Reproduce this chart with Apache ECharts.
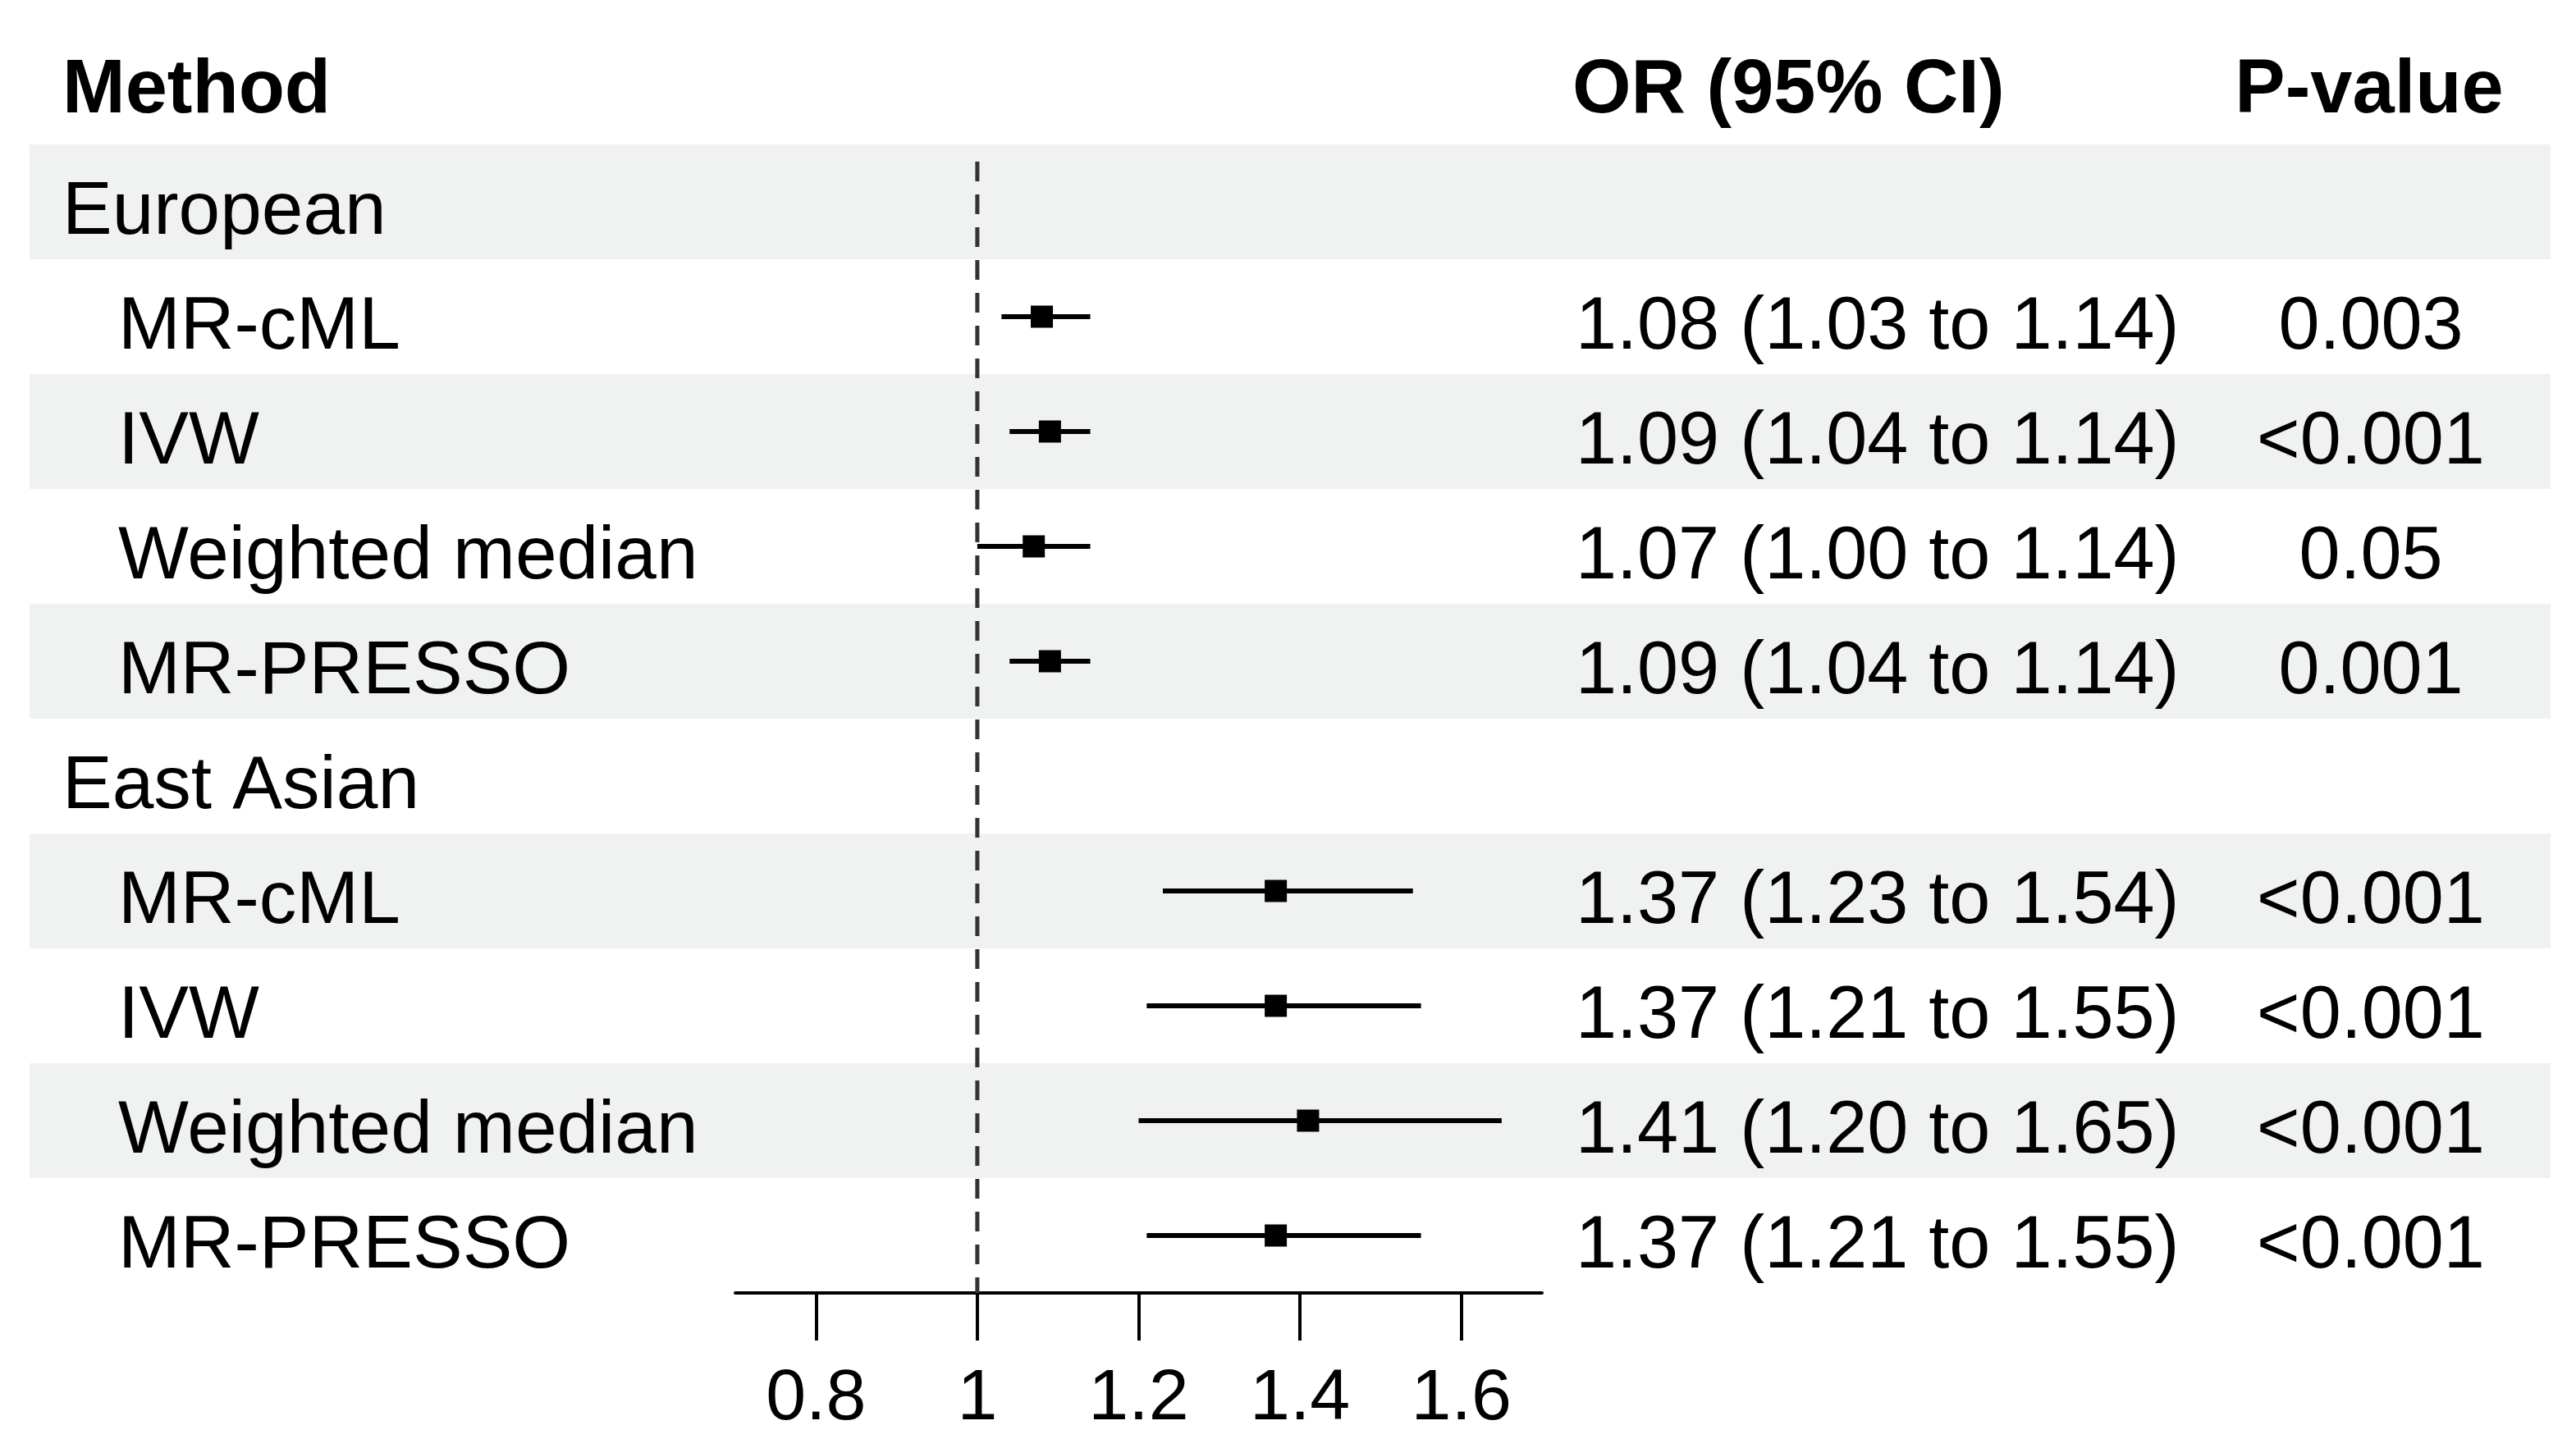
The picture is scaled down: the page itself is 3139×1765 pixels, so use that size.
<!DOCTYPE html>
<html><head><meta charset="utf-8">
<script src="https://cdn.jsdelivr.net/npm/echarts@6/dist/echarts.min.js"></script>
<style>html,body{margin:0;padding:0;background:#fff}#c{width:3139px;height:1765px}</style>
</head><body><div id="c"></div>
<script>
// ---- data ----
const rowLabels = ['European','MR-cML','IVW','Weighted median','MR-PRESSO','East Asian','MR-cML','IVW','Weighted median','MR-PRESSO'];
const rowIsGroup = [true,false,false,false,false,true,false,false,false,false];
const rowShaded = [true,false,true,false,true,false,true,false,true,false];
const orValues = [null,1.08,1.09,1.07,1.09,null,1.37,1.37,1.41,1.37];
const ciLower = [null,1.03,1.04,1.00,1.04,null,1.23,1.21,1.20,1.21];
const ciUpper = [null,1.14,1.14,1.14,1.14,null,1.54,1.55,1.65,1.55];
const pValues = ['','0.003','<0.001','0.05','0.001','','<0.001','<0.001','<0.001','<0.001'];
const tickValues = [0.8,1,1.2,1.4,1.6];
const headers = ['Method','OR (95% CI)','P-value'];
const refValue = 1;

// ---- layout ----
const FONT = '"Liberation Sans", Arial, sans-serif';
const FS_LABEL = 91, FS_OR = 90, FS_HEAD = 92;
const BAND_L = 36, BAND_R = 3108;
const X_GROUP = 76, X_METHOD = 144, X_OR = 1920, X_P = 2889;
const TEXT_DY = 14, HEAD_DY = 6;

const chart = echarts.init(document.getElementById('c'), null, {renderer:'canvas'});
const rows = rowLabels.map((_, i) => i);

function fmt(v){ return v.toFixed(2); }

chart.setOption({
  animation: false,
  backgroundColor: '#fff',
  grid: {left: 896, right: 1260, top: 176, bottom: 189},
  xAxis: {
    type: 'value', min: 0.7, max: 1.7, position: 'bottom',
    axisLine: {show: true, onZero: false, lineStyle: {color: '#000', width: 4}},
    axisTick: {show: true, customValues: tickValues, length: 58, lineStyle: {color: '#000', width: 4}},
    axisLabel: {customValues: tickValues, fontSize: 88, color: '#000', fontFamily: FONT, margin: 86,
      formatter: v => String(+v.toFixed(2))},
    splitLine: {show: false}
  },
  yAxis: {type: 'value', min: 0, max: 10, inverse: true, show: false},
  series: [
    { // bands
      type: 'custom', z: 1, silent: true, clip: false,
      data: rows,
      renderItem: (params, api) => {
        const i = api.value(0);
        if (!rowShaded[i]) return null;
        const y0 = api.coord([1, i])[1], y1 = api.coord([1, i + 1])[1];
        return {type: 'rect', shape: {x: BAND_L, y: y0, width: BAND_R - BAND_L, height: y1 - y0},
          style: {fill: '#eff2f0'}};
      }
    },
    { // reference line
      type: 'custom', z: 2, silent: true, clip: false,
      data: [[refValue]],
      renderItem: (params, api) => {
        const p0 = api.coord([api.value(0), 0.15]), p1 = api.coord([api.value(0), 10]);
        return {type: 'line', shape: {x1: p0[0], y1: p0[1], x2: p1[0], y2: p1[1]},
          style: {stroke: '#333', lineWidth: 5, lineDash: [24, 16]}};
      }
    },
    { // CI + squares
      type: 'custom', z: 3, silent: true, clip: false,
      data: rows.filter(i => orValues[i] != null).map(i => [orValues[i], ciLower[i], ciUpper[i], i]),
      renderItem: (params, api) => {
        const r = api.value(3);
        const pc = api.coord([api.value(0), r + 0.5]);
        const pl = api.coord([api.value(1), r + 0.5]);
        const ph = api.coord([api.value(2), r + 0.5]);
        const s = 27;
        return {type: 'group', children: [
          {type: 'line', shape: {x1: pl[0], y1: pl[1], x2: ph[0], y2: ph[1]}, style: {stroke: '#000', lineWidth: 6}},
          {type: 'rect', shape: {x: pc[0] - s / 2, y: pc[1] - s / 2, width: s, height: s}, style: {fill: '#000'}}
        ]};
      }
    },
    { // text columns
      type: 'custom', z: 4, silent: true, clip: false,
      data: [-1].concat(rows),
      renderItem: (params, api) => {
        const i = api.value(0);
        const y = api.coord([1, i + 0.5])[1];
        const base = {fontFamily: FONT, fill: '#000', verticalAlign: 'middle'};
        if (i < 0) {
          const b = Object.assign({}, base, {fontWeight: 'bold', fontSize: FS_HEAD});
          const yh = y + HEAD_DY;
          return {type: 'group', children: [
            {type: 'text', style: Object.assign({}, b, {text: headers[0], x: X_GROUP, y: yh, align: 'left'})},
            {type: 'text', style: Object.assign({}, b, {text: headers[1], x: X_OR - 4, y: yh, align: 'left'})},
            {type: 'text', style: Object.assign({}, b, {text: headers[2], x: X_P - 2, y: yh, align: 'center'})}
          ]};
        }
        const yy = y + TEXT_DY;
        const children = [
          {type: 'text', style: Object.assign({}, base, {fontSize: FS_LABEL, text: rowLabels[i], x: rowIsGroup[i] ? X_GROUP : X_METHOD, y: yy, align: 'left'})}
        ];
        if (orValues[i] != null) {
          children.push({type: 'text', style: Object.assign({}, base, {fontSize: FS_OR,
            text: fmt(orValues[i]) + ' (' + fmt(ciLower[i]) + ' to ' + fmt(ciUpper[i]) + ')', x: X_OR, y: yy, align: 'left'})});
          children.push({type: 'text', style: Object.assign({}, base, {fontSize: FS_OR, text: pValues[i], x: X_P, y: yy, align: 'center'})});
        }
        return {type: 'group', children};
      }
    }
  ]
});
</script>
</body></html>
